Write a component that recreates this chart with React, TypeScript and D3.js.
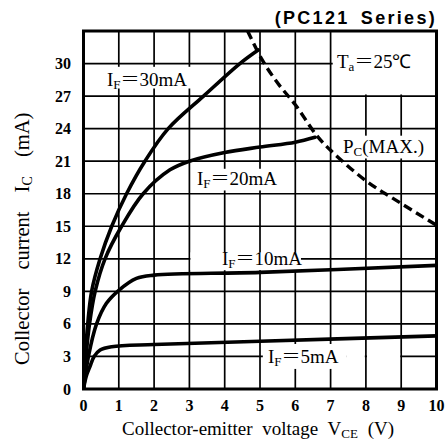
import React from 'react';
import * as d3 from 'd3';

// Axis ticks
const xTicks = [0, 1, 2, 3, 4, 5, 6, 7, 8, 9, 10];
const yTicks = [0, 3, 6, 9, 12, 15, 18, 21, 24, 27, 30];
const xGrid = [1, 2, 3, 4, 5, 6, 7, 8, 9];
const yGrid = [3, 6, 9, 12, 15, 18, 21, 24, 27, 30];

// IF = 30 mA
const v30 = [0, 0.05, 0.12, 0.23, 0.47, 0.8, 1.22, 1.74, 2.4, 3.4, 4.43, 4.95];
const i30 = [0, 3, 6, 9, 12, 15, 18, 21, 24, 27, 30, 31.25];
// IF = 20 mA
const v20 = [0, 0.07, 0.17, 0.33, 0.61, 1.08, 1.69, 2.45, 3.0, 4, 5, 6, 6.56];
const i20 = [0, 3, 6, 9, 12, 15, 18, 20.2, 21, 21.8, 22.3, 22.75, 23.2];
// IF = 10 mA
const v10 = [0, 0.14, 0.37, 0.65, 1, 1.5, 2, 5, 10];
const i10 = [0, 3, 6, 7.9, 9.1, 10.2, 10.5, 10.75, 11.4];
// IF = 5 mA
const v5 = [0, 0.08, 0.18, 0.3, 0.47, 0.8, 2, 5, 10];
const i5 = [0, 1.2, 2.05, 3.0, 3.6, 3.9, 4.1, 4.4, 4.9];
// PC(MAX.) limit
const vPC = [4.65, 5.05, 5.5, 6, 6.6, 7, 8, 9, 10];
const iPC = [33, 30.4, 28.2, 26.2, 23.4, 22.0, 19.2, 17.1, 15.1];

const zip = (a: number[], b: number[]) => a.map((v, k) => [v, b[k]] as [number, number]);

const SERIF = "'Liberation Serif', 'Times New Roman', Times, serif";
const SANS = "'Liberation Sans', Arial, Helvetica, sans-serif";
const CJK = "'Noto Sans CJK JP', sans-serif";

export default function App() {
  const x = d3.scaleLinear().domain([0, 10]).range([83.5, 436.5]);
  const y = d3.scaleLinear().domain([0, 33]).range([389, 31]);
  const line = d3
    .line<[number, number]>()
    .x((d) => x(d[0]))
    .y((d) => y(d[1]))
    .curve(d3.curveCatmullRom.alpha(0.5));

  // label gap boxes (white), in data coordinates [v0, v1, i0, i1]
  const gaps: [number, number, number, number][] = [
    [0.47, 3.2, 27.7, 29.7],
    [7.06, 9.96, 27.15, 32.95],
    [7.12, 9.96, 21.25, 23.35],
    [3.1, 5.62, 18.3, 20.3],
    [3.03, 6.16, 10.95, 12.6],
    [5.08, 7.44, 1.85, 4.15],
    [7.44, 7.97, 2.7, 3.3],
    [8.03, 8.97, 2.7, 3.3],
  ];

  const curves = [zip(v30, i30), zip(v20, i20), zip(v10, i10), zip(v5, i5)];

  const lab = (px: number, py: number, main: string, sub: string, eq: boolean, rest: string) => (
    <text x={px} y={py} style={{ fontFamily: SERIF, fontSize: 19 }} fill="#000">
      {main}
      <tspan style={{ fontSize: 13 }} dy={3}>
        {sub}
      </tspan>
      {eq ? (
        <>
          <tspan dy={-3} style={{ fontFamily: CJK, fontWeight: 300 }}>
            ＝
          </tspan>
          <tspan>{rest}</tspan>
        </>
      ) : (
        <tspan dy={-3}>{rest}</tspan>
      )}
    </text>
  );

  return (
    <svg
      width={447}
      height={440}
      style={{ position: 'absolute', left: 0, top: 0, background: '#fff', fontFamily: SERIF }}
    >
      <defs>
        <clipPath id="plotclip">
          <rect x={x(0)} y={y(33)} width={x(10) - x(0)} height={y(0) - y(33)} />
        </clipPath>
      </defs>
      <rect x={0} y={0} width={447} height={440} fill="#fff" />

      {/* title */}
      <text
        x={437}
        y={24}
        textAnchor="end"
        style={{ fontFamily: SANS, fontWeight: 'bold', fontSize: 18, letterSpacing: '2.3px', wordSpacing: '4px' }}
      >
        (PC121 Series)
      </text>

      {/* grid */}
      {xGrid.map((v) => (
        <line key={'gx' + v} x1={x(v)} x2={x(v)} y1={y(0)} y2={y(33)} stroke="#000" strokeWidth={1.7} />
      ))}
      {yGrid.map((v) => (
        <line key={'gy' + v} x1={x(0)} x2={x(10)} y1={y(v)} y2={y(v)} stroke="#000" strokeWidth={1.7} />
      ))}
      {gaps.map((g, k) => (
        <rect
          key={'gap' + k}
          x={x(g[0])}
          y={y(g[3])}
          width={x(g[1]) - x(g[0])}
          height={y(g[2]) - y(g[3])}
          fill="#fff"
        />
      ))}

      {/* curves */}
      <g clipPath="url(#plotclip)">
        {curves.map((c, k) => (
          <path
            key={'c' + k}
            d={line(c) || ''}
            fill="none"
            stroke="#000"
            strokeWidth={3.6}
            strokeLinejoin="round"
            strokeLinecap="round"
          />
        ))}
        <path d={line(zip(vPC, iPC)) || ''} fill="none" stroke="#000" strokeWidth={3.4} strokeDasharray="9,5" />
      </g>

      {/* border */}
      <rect x={x(0)} y={y(33)} width={x(10) - x(0)} height={y(0) - y(33)} fill="none" stroke="#000" strokeWidth={3} />

      {/* curve labels */}
      {lab(107, 86, 'I', 'F', true, '30mA')}
      {lab(197, 185, 'I', 'F', true, '20mA')}
      {lab(222, 265, 'I', 'F', true, '10mA')}
      {lab(268, 363, 'I', 'F', true, '5mA')}
      {lab(337, 68, 'T', 'a', true, '25℃')}
      {lab(343, 153, 'P', 'C', false, '(MAX.)')}

      {/* tick labels */}
      {yTicks.map((v) => (
        <text
          key={'ty' + v}
          x={71}
          y={y(v) + 5.5}
          textAnchor="end"
          style={{ fontFamily: SERIF, fontWeight: 'bold', fontSize: 16 }}
        >
          {v}
        </text>
      ))}
      {xTicks.map((v) => (
        <text
          key={'tx' + v}
          x={x(v)}
          y={411}
          textAnchor="middle"
          style={{ fontFamily: SERIF, fontWeight: 'bold', fontSize: 16 }}
        >
          {v}
        </text>
      ))}

      {/* axis titles */}
      <text x={122} y={435} style={{ fontFamily: SERIF, fontSize: 19, wordSpacing: '5px' }}>
        Collector-emitter voltage V
        <tspan style={{ fontSize: 13 }} dy={3}>
          CE
        </tspan>
        <tspan dy={-3}> (V)</tspan>
      </text>
      <text
        transform="translate(29,365) rotate(-90)"
        x={0}
        y={0}
        style={{ fontFamily: SERIF, fontSize: 20.5, wordSpacing: '14px' }}
      >
        Collector current I
        <tspan style={{ fontSize: 14 }} dy={3}>
          C
        </tspan>
        <tspan dy={-3}> (mA)</tspan>
      </text>
    </svg>
  );
}
